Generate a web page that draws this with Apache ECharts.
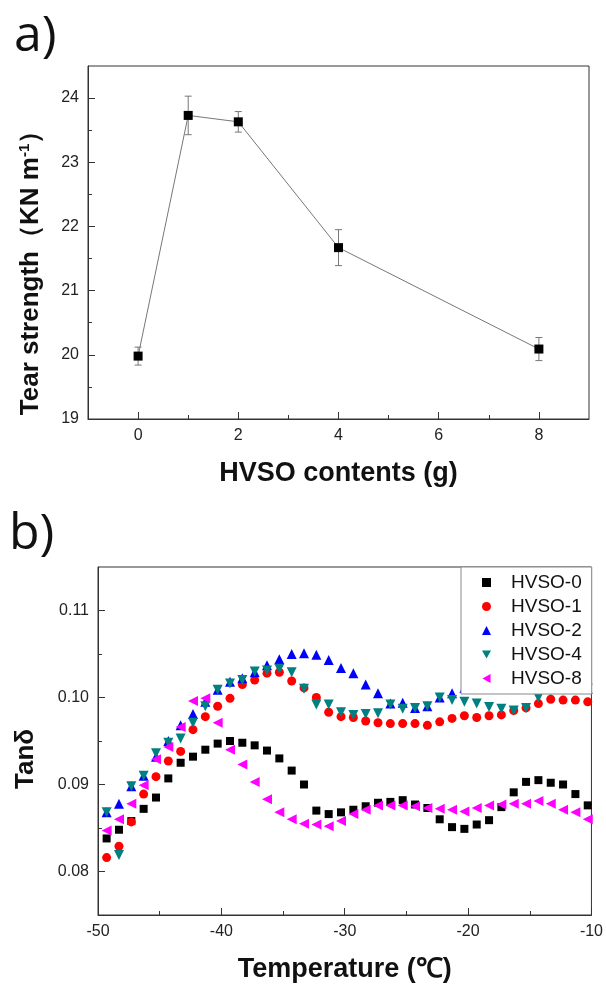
<!DOCTYPE html>
<html>
<head>
<meta charset="utf-8">
<script src="https://cdn.jsdelivr.net/npm/echarts@6/dist/echarts.min.js"></script>
<style>
  html, body { margin: 0; padding: 0; background: #fff; }
  #main { width: 606px; height: 984px; }
</style>
</head>
<body>
<div id="main"></div>
<script>
// a) tear strength vs HVSO content
const contents = [0, 1, 2, 4, 8];
const tearStrength = [19.98, 23.73, 23.63, 21.67, 20.09];
const tearError = [0.14, 0.30, 0.16, 0.28, 0.18];
const tearTicks = [19, 20, 21, 22, 23, 24];
const tearMinorTicks = [19.5, 20.5, 21.5, 22.5, 23.5];
const contentTicks = [0, 2, 4, 6, 8];
const contentMinorTicks = [1, 3, 5, 7];

// b) tan delta vs temperature
const temperature = [-49.3, -48.3, -47.3, -46.3, -45.3, -44.3, -43.3, -42.3, -41.3, -40.3,
  -39.3, -38.3, -37.3, -36.3, -35.3, -34.3, -33.3, -32.3, -31.3, -30.3,
  -29.3, -28.3, -27.3, -26.3, -25.3, -24.3, -23.3, -22.3, -21.3, -20.3,
  -19.3, -18.3, -17.3, -16.3, -15.3, -14.3, -13.3, -12.3, -11.3, -10.3];
const hvso0 = [0.0838, 0.0848, 0.0858, 0.0872, 0.0885, 0.0907, 0.0925, 0.0932, 0.0940, 0.0947,
  0.0950, 0.0948, 0.0945, 0.0939, 0.0930, 0.0916, 0.0900, 0.0870, 0.0866, 0.0868,
  0.0871, 0.0875, 0.0879, 0.0880, 0.0882, 0.0877, 0.0873, 0.0860, 0.0851, 0.0849,
  0.0854, 0.0859, 0.0874, 0.0891, 0.0903, 0.0905, 0.0902, 0.0900, 0.0889, 0.0876];
const hvso1 = [0.0816, 0.0829, 0.0857, 0.0889, 0.0909, 0.0927, 0.0938, 0.0963, 0.0978, 0.0990,
  0.0999, 0.1015, 0.1020, 0.1028, 0.1029, 0.1019, 0.1011, 0.1000, 0.0983, 0.0978,
  0.0977, 0.0973, 0.0971, 0.0970, 0.0970, 0.0970, 0.0968, 0.0972, 0.0976, 0.0979,
  0.0977, 0.0979, 0.0980, 0.0985, 0.0988, 0.0993, 0.0998, 0.0997, 0.0997, 0.0995];
const hvso2 = [0.0868, 0.0878, 0.0898, 0.0910, 0.0932, 0.0950, 0.0968, 0.0981, 0.0995, 0.1009,
  0.1018, 0.1022, 0.1029, 0.1037, 0.1044, 0.1050, 0.1051, 0.1049, 0.1043, 0.1034,
  0.1028, 0.1015, 0.1005, 0.0993, 0.0994, 0.0988, 0.0990, 0.1000, 0.1005, 0.1011,
  0.1012, 0.1013, 0.1012, 0.1011, 0.1012, 0.1012, 0.1011, 0.1010, 0.1010, 0.1010];
const hvso4 = [0.0868, 0.0819, 0.0898, 0.0910, 0.0936, 0.0948, 0.0953, 0.0971, 0.0990, 0.1009,
  0.1016, 0.1020, 0.1030, 0.1031, 0.1033, 0.1029, 0.1010, 0.0992, 0.0992, 0.0983,
  0.0980, 0.0981, 0.0982, 0.0992, 0.0987, 0.0988, 0.0990, 0.1000, 0.0997, 0.0995,
  0.0993, 0.0989, 0.0987, 0.0985, 0.0988, 0.1000, 0.1008, 0.1009, 0.1010, 0.1010];
const hvso8 = [0.0847, 0.0860, 0.0878, 0.0899, 0.0929, 0.0943, 0.0966, 0.0996, 0.0999, 0.0971,
  0.0940, 0.0923, 0.0903, 0.0883, 0.0868, 0.0860, 0.0855, 0.0854, 0.0852, 0.0858,
  0.0866, 0.0871, 0.0876, 0.0876, 0.0876, 0.0875, 0.0873, 0.0872, 0.0871, 0.0869,
  0.0873, 0.0876, 0.0877, 0.0878, 0.0878, 0.0881, 0.0878, 0.0871, 0.0868, 0.0860];
const tanTicks = [0.08, 0.09, 0.10, 0.11];
const tanMinorTicks = [0.085, 0.095, 0.105];

const FONT = 'Liberation Sans';
const AXIS_COLOR = '#333';
const DOWN_TRI = 'path://M0,0 L10,0 L5,9 Z';
const LEFT_TRI = 'path://M9,0 L9,10 L0,5 Z';

function tickAxis(grid, min, max, ticks, len, labels, extra) {
  return Object.assign({
    gridIndex: grid, type: 'value', min: min, max: max,
    axisLine: { show: true, onZero: false, lineStyle: { color: AXIS_COLOR, width: 1 } },
    axisTick: { show: true, inside: true, length: len, customValues: ticks, lineStyle: { color: AXIS_COLOR } },
    axisLabel: labels
      ? { show: true, customValues: ticks, fontFamily: FONT, fontSize: 16, color: '#222', margin: 9 }
      : { show: false },
    splitLine: { show: false }
  }, extra || {});
}

const titleStyle = { fontFamily: FONT, fontSize: 26, fontWeight: 'bold', color: '#111' };

const chart = echarts.init(document.getElementById('main'), null, { renderer: 'canvas' });

function scatter(name, values, symbol, size, rotate, color) {
  return {
    name: name, type: 'scatter', xAxisIndex: 2, yAxisIndex: 2,
    symbol: symbol, symbolSize: size, symbolRotate: rotate,
    itemStyle: { color: color, opacity: 1 },
    data: temperature.map((t, i) => [t, values[i]])
  };
}

chart.setOption({
  animation: false,
  backgroundColor: '#fff',
  grid: [
    { left: 88, top: 66, width: 501, height: 353, show: true, borderColor: AXIS_COLOR, borderWidth: 1 },
    { left: 98, top: 567, width: 494, height: 348, show: true, borderColor: AXIS_COLOR, borderWidth: 1 }
  ],
  xAxis: [
    tickAxis(0, -1, 9, contentTicks, 7, true, {
      position: 'bottom',
      name: 'HVSO contents (g)', nameLocation: 'middle', nameGap: 41,
      nameTextStyle: Object.assign({}, titleStyle, { fontSize: 27 })
    }),
    tickAxis(0, -1, 9, contentMinorTicks, 4, false, { position: 'bottom', axisLine: { show: false, onZero: false } }),
    {
      gridIndex: 1, type: 'value', min: -50, max: -10, interval: 10, position: 'bottom',
      axisLine: { show: true, onZero: false, lineStyle: { color: AXIS_COLOR, width: 1 } },
      axisTick: { show: true, inside: true, length: 7, lineStyle: { color: AXIS_COLOR } },
      minorTick: { show: true, splitNumber: 2, length: 4, lineStyle: { color: AXIS_COLOR } },
      axisLabel: { fontFamily: FONT, fontSize: 16, color: '#222', margin: 9 },
      splitLine: { show: false },
      name: 'Temperature (℃)', nameLocation: 'middle', nameGap: 41,
      nameTextStyle: Object.assign({}, titleStyle, { fontSize: 27 })
    }
  ],
  yAxis: [
    tickAxis(0, 19, 24.5, tearTicks, 7, true, {
      position: 'left',
      name: '{a|Tear strength（KN m}{s|-1}{a|）}', nameLocation: 'middle', nameGap: 44,
      nameTextStyle: {
        padding: [0, 48, 0, 0],
        rich: {
          a: titleStyle,
          s: { fontFamily: FONT, fontSize: 15, fontWeight: 'bold', color: '#111', verticalAlign: 'top', padding: [0, 0, 12, 0] }
        }
      }
    }),
    tickAxis(0, 19, 24.5, tearMinorTicks, 4, false, { position: 'left', axisLine: { show: false, onZero: false } }),
    tickAxis(1, 0.075, 0.115, tanTicks, 7, true, {
      position: 'left',
      name: 'Tanδ', nameLocation: 'middle', nameGap: 59,
      nameTextStyle: Object.assign({}, titleStyle, { padding: [0, 36, 0, 0] })
    }),
    tickAxis(1, 0.075, 0.115, tanMinorTicks, 4, false, { position: 'left', axisLine: { show: false, onZero: false } })
  ],
  legend: {
    data: [
      { name: 'HVSO-0' },
      { name: 'HVSO-1' },
      { name: 'HVSO-2' },
      { name: 'HVSO-4', icon: DOWN_TRI },
      { name: 'HVSO-8', icon: LEFT_TRI }
    ],
    orient: 'vertical', left: 461, top: 567,
    itemWidth: 9, itemHeight: 9, itemGap: 5,
    padding: [6, 10, 6, 21],
    backgroundColor: '#fff', borderColor: '#888', borderWidth: 1,
    selectedMode: false,
    textStyle: { fontFamily: FONT, fontSize: 19, color: '#111', padding: [0, 0, 0, 15] }
  },
  graphic: [
    { type: 'text', left: 14, top: 12, style: { text: 'a)', font: '50px "Open Sans"', fill: '#111' } },
    { type: 'text', left: 9, top: 510, style: { text: 'b)', font: '50px "Open Sans"', fill: '#111' } }
  ],
  series: [
    {
      type: 'custom', xAxisIndex: 0, yAxisIndex: 0, silent: true, z: 1,
      encode: { x: 0, y: [1, 2] },
      data: contents.map((c, i) => [c, tearStrength[i] - tearError[i], tearStrength[i] + tearError[i]]),
      renderItem: function (params, api) {
        const lo = api.coord([api.value(0), api.value(1)]);
        const hi = api.coord([api.value(0), api.value(2)]);
        const w = 3.5;
        const st = { stroke: '#777', lineWidth: 1 };
        return {
          type: 'group',
          children: [
            { type: 'line', shape: { x1: lo[0], y1: lo[1], x2: hi[0], y2: hi[1] }, style: st },
            { type: 'line', shape: { x1: lo[0] - w, y1: lo[1], x2: lo[0] + w, y2: lo[1] }, style: st },
            { type: 'line', shape: { x1: hi[0] - w, y1: hi[1], x2: hi[0] + w, y2: hi[1] }, style: st }
          ]
        };
      }
    },
    {
      type: 'line', xAxisIndex: 0, yAxisIndex: 0, z: 3,
      symbol: 'rect', symbolSize: 9, showSymbol: true,
      lineStyle: { color: '#777', width: 1 },
      itemStyle: { color: '#000' },
      data: contents.map((c, i) => [c, tearStrength[i]])
    },
    scatter('HVSO-0', hvso0, 'rect', 8, 0, '#000000'),
    scatter('HVSO-1', hvso1, 'circle', 9, 0, '#ff0000'),
    scatter('HVSO-2', hvso2, 'triangle', 10, 0, '#0000ff'),
    scatter('HVSO-4', hvso4, 'triangle', 10, 180, '#008080'),
    scatter('HVSO-8', hvso8, 'triangle', 10, 90, '#ff00ff')
  ]
});

// two-decimal labels on the tan delta axis
chart.setOption({
  yAxis: [{}, {}, { axisLabel: { formatter: v => v.toFixed(2) } }, {}]
});
</script>
</body>
</html>
